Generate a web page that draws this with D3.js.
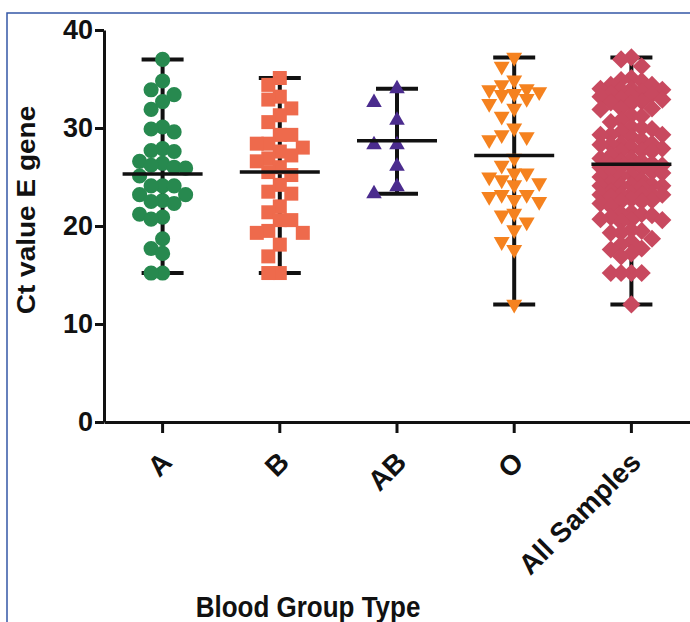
<!DOCTYPE html>
<html>
<head>
<meta charset="utf-8">
<script src="https://cdn.jsdelivr.net/npm/d3@7"></script>
<style>
  body { margin: 0; background: #fff; }
  text { font-family: "Liberation Sans", Arial, sans-serif; font-weight: bold; }
</style>
</head>
<body>
<div id="chart"></div>
<script>
// Ct values of the E gene
const groups = ["A", "B", "AB", "O", "All Samples"];

const groupA = [37.0, 34.8, 33.9, 33.4, 32.7, 31.9, 30.1, 29.9, 29.6, 27.9, 27.7, 27.6, 26.6, 26.4,
    26.2, 26.0, 25.9, 25.1, 24.1, 24.1, 24.1, 23.2, 23.2, 22.6, 22.5, 22.3, 21.2, 20.9, 20.7,
    18.7, 17.7, 17.2, 15.2, 15.2];
const groupB = [35.1, 34.4, 33.2, 32.9, 32.0, 31.3, 30.6, 29.3, 29.3, 28.4, 28.4, 28.0, 27.6, 27.2,
    26.9, 26.6, 26.0, 25.5, 25.2, 24.2, 23.5, 23.3, 22.0, 21.4, 20.6, 20.6, 19.5, 19.3, 19.3,
    18.1, 16.9, 15.2, 15.2];
const groupAB = [34.0, 32.6, 30.8, 28.3, 28.3, 26.1, 24.0, 23.3];
const groupO = [37.2, 36.3, 34.9, 34.4, 34.0, 33.9, 33.7, 33.5, 33.4, 33.0, 32.5, 32.0, 31.2, 30.0,
    29.3, 29.1, 28.8, 26.9, 26.2, 25.4, 25.4, 25.0, 24.7, 24.4, 24.2, 23.2, 23.2, 23.0, 22.7,
    22.5, 21.3, 21.1, 20.4, 19.6, 18.4, 17.6, 12.0];
// all samples = every group together
const groupAll = groupA.concat(groupB, groupAB, groupO);

const means = [25.3, 25.5, 28.7, 27.2, 26.3];
const yTicks = [0, 10, 20, 30, 40];

const width = 690, height = 622;
const svg = d3.select("#chart").append("svg")
    .attr("width", width)
    .attr("height", height);

// thin blue frame of the figure
svg.append("rect")
    .attr("x", 7).attr("y", 13)
    .attr("width", 720).attr("height", 700)
    .attr("fill", "none")
    .attr("stroke", "#3457a6")
    .attr("stroke-width", 1.5);

const x = d3.scaleBand().domain(groups).range([104, 690]);
const y = d3.scaleLinear().domain([0, 40]).range([422, 30]);

const series = [
    { name: "A", values: groupA, color: "#27894f", shape: "circle", lane: 11.5, gap: 14, lanes: 2 },
    { name: "B", values: groupB, color: "#ee6a4c", shape: "square", lane: 11.5, gap: 13, lanes: 2 },
    { name: "AB", values: groupAB, color: "#4b2c8e", shape: "up", lane: 23, gap: 14, lanes: 1 },
    { name: "O", values: groupO, color: "#f5821f", shape: "down", lane: 12.5, gap: 12, lanes: 2 },
    { name: "All Samples", values: groupAll, color: "#c8495f", shape: "diamond", lane: 10.3, gap: 9, lanes: 3 }
];

// simple column scatter: put each point in the nearest free lane
function swarm(s) {
    const cx = x(s.name) + x.bandwidth() / 2;
    const taken = new Map();
    return s.values.slice().sort((a, b) => b - a).map(v => {
        const py = y(v);
        let best = 0, bestGap = -1;
        for (let k = 0; k <= 2 * s.lanes; k++) {
            const lane = k === 0 ? 0 : (k % 2 ? -Math.ceil(k / 2) : Math.ceil(k / 2));
            const ys = taken.get(lane) || [];
            const g = ys.length ? d3.min(ys, q => Math.abs(q - py)) : Infinity;
            if (g >= s.gap) { best = lane; break; }
            if (g > bestGap) { bestGap = g; best = lane; }
        }
        if (!taken.has(best)) taken.set(best, []);
        taken.get(best).push(py);
        return { x: cx + best * s.lane, y: py };
    });
}

const symbols = {
    circle: d3.symbol().type(d3.symbolCircle).size(180)(),
    square: d3.symbol().type(d3.symbolSquare).size(196)(),
    up: d3.symbol().type(d3.symbolTriangle).size(105)(),
    down: d3.symbol().type(d3.symbolTriangle).size(110)(),
    diamond: d3.symbol().type(d3.symbolSquare).size(165)()
};
const rotation = { circle: 0, square: 0, up: 0, down: 180, diamond: 45 };

// range bars (min to max) under the points
series.forEach(s => {
    const cx = x(s.name) + x.bandwidth() / 2;
    const [lo, hi] = d3.extent(s.values);
    const g = svg.append("g").attr("stroke", "#111").attr("stroke-width", 4);
    g.append("line").attr("x1", cx).attr("x2", cx).attr("y1", y(lo)).attr("y2", y(hi));
    [lo, hi].forEach(v => {
        g.append("line").attr("x1", cx - 21).attr("x2", cx + 21).attr("y1", y(v)).attr("y2", y(v));
    });
});

series.forEach(s => {
    svg.append("g").selectAll("path")
        .data(swarm(s))
        .enter().append("path")
        .attr("d", symbols[s.shape])
        .attr("fill", s.color)
        .attr("transform", d => `translate(${d.x},${d.y}) rotate(${rotation[s.shape]})`);
});

// mean lines on top
svg.append("g").selectAll("line")
    .data(series)
    .enter().append("line")
    .attr("x1", (d, i) => x(d.name) + x.bandwidth() / 2 - 40)
    .attr("x2", (d, i) => x(d.name) + x.bandwidth() / 2 + 40)
    .attr("y1", (d, i) => y(means[i]))
    .attr("y2", (d, i) => y(means[i]))
    .attr("stroke", "#111")
    .attr("stroke-width", 3.5);

// axes
const yAxis = svg.append("g")
    .attr("transform", "translate(104,0)")
    .call(d3.axisLeft(y).tickValues(yTicks).tickSize(9).tickSizeOuter(0).tickPadding(2));
const xAxis = svg.append("g")
    .attr("transform", "translate(0,422)")
    .call(d3.axisBottom(x).tickSize(11).tickSizeOuter(0));

[yAxis, xAxis].forEach(a => {
    a.selectAll("path, line").attr("stroke", "#111").attr("stroke-width", 3);
    a.selectAll("text").attr("fill", "#111").style("font-size", "27px");
});
xAxis.selectAll("text")
    .style("font-size", "28px")
    .attr("x", 0).attr("y", 0).attr("dy", 0)
    .attr("text-anchor", "end")
    .attr("transform", "translate(11,42) rotate(-45)");

svg.append("text")
    .attr("transform", "translate(35,210) rotate(-90) scale(1.12,1)")
    .attr("text-anchor", "middle")
    .style("font-size", "25px")
    .attr("fill", "#111")
    .text("Ct value E gene");

svg.append("text")
    .attr("transform", "translate(308,617) scale(1,1.15)")
    .attr("text-anchor", "middle")
    .style("font-size", "26px")
    .attr("fill", "#111")
    .text("Blood Group Type");
</script>
</body>
</html>
